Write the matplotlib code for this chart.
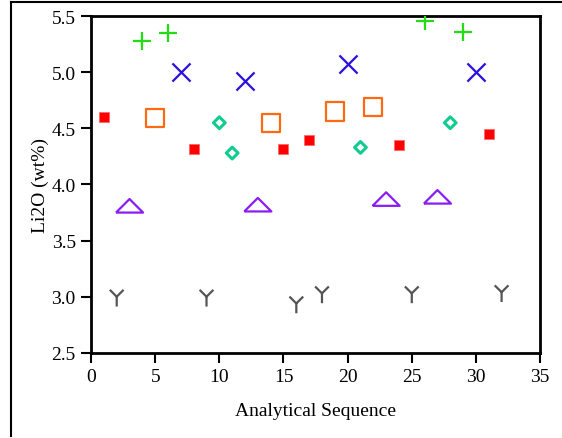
import matplotlib.pyplot as plt
from matplotlib.lines import Line2D
from matplotlib.path import Path

plt.rcParams['font.family'] = ['Liberation Serif', 'DejaVu Serif']

# Li2O values, grouped by sample / marker
std_a_x = [1, 8, 15, 17, 24, 31]
std_a_y = [4.60, 4.32, 4.32, 4.40, 4.35, 4.45]

std_b_x = [2, 9, 16, 18, 25, 32]
std_b_y = [3.00, 3.00, 2.94, 3.03, 3.03, 3.04]

std_c_x = [3, 13, 23, 27]
std_c_y = [3.81, 3.82, 3.87, 3.89]

std_d_x = [4, 6, 26, 29]
std_d_y = [5.28, 5.35, 5.46, 5.36]

std_e_x = [5, 14, 19, 22]
std_e_y = [4.59, 4.55, 4.65, 4.69]

std_f_x = [7, 12, 20, 30]
std_f_y = [5.00, 4.92, 5.07, 5.00]

std_g_x = [10, 11, 21, 28]
std_g_y = [4.55, 4.28, 4.33, 4.55]

xticks = [0, 5, 10, 15, 20, 25, 30, 35]
yticks = [2.5, 3.0, 3.5, 4.0, 4.5, 5.0, 5.5]

# wide flat triangle
flat_tri = [(-1, -0.5), (1, -0.5), (0, 0.5), (-1, -0.5)]
# letter-Y shaped marker (arms steeper than matplotlib's tri_down)
y_mark = Path([(0, 0), (0, -1), (0, 0), (-0.7, 0.7), (0, 0), (0.7, 0.7)],
              [Path.MOVETO, Path.LINETO, Path.MOVETO, Path.LINETO, Path.MOVETO, Path.LINETO])

fig = plt.figure(figsize=(5.62, 4.39), dpi=100)
# outer frame of the original figure (left and top edges)
fig.add_artist(Line2D([0.02, 0.02], [0.005, 0.993], color='black', lw=1.5))
fig.add_artist(Line2D([0.02, 1.0], [0.993, 0.993], color='black', lw=1.5))

ax = fig.add_axes([0.162, 0.194, 0.799, 0.767])

ax.scatter(std_a_x, std_a_y, marker='s', s=50, color='#ff0000', edgecolors='#ff6060', linewidths=0.5, zorder=3)
ax.scatter(std_b_x, std_b_y, marker=y_mark, s=200, facecolors='none', edgecolors='#555555', linewidths=1.6, zorder=3)
ax.scatter(std_c_x, std_c_y, marker=flat_tri, s=380, facecolors='none', edgecolors='#8a1cf5', linewidths=1.6, zorder=3)
ax.scatter(std_d_x, std_d_y, marker='+', s=180, color='#22dd11', linewidths=1.6, zorder=3)
ax.scatter(std_e_x, std_e_y, marker='s', s=170, facecolors='none', edgecolors='#ff6a10', linewidths=1.6, zorder=3)
ax.scatter(std_f_x, std_f_y, marker='x', s=170, color='#2a10e0', linewidths=1.6, zorder=3)
ax.scatter(std_g_x, std_g_y, marker='D', s=36, facecolors='none', edgecolors='#10cc90', linewidths=2.2, zorder=3)

ax.set_xlim(0, 35)
ax.set_ylim(2.5, 5.5)
ax.set_xticks(xticks)
ax.set_yticks(yticks)
ax.set_yticklabels(['%.1f' % v for v in yticks])
ax.tick_params(direction='out', length=7, width=1.5, labelsize=14, pad=4)
for sp in ax.spines.values():
    sp.set_linewidth(2)

ax.set_xlabel('Analytical Sequence', fontsize=14, labelpad=12)
ax.set_ylabel('Li2O (wt%)', fontsize=14, labelpad=2)

fig.savefig('out.png', dpi=100)
